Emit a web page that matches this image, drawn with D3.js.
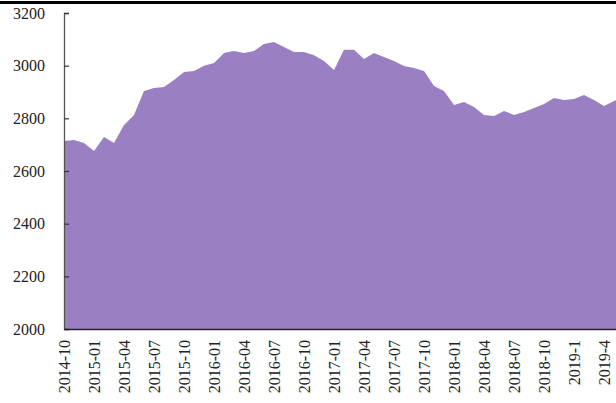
<!DOCTYPE html>
<html>
<head>
<meta charset="utf-8">
<script src="https://cdn.jsdelivr.net/npm/d3@7"></script>
<style>
  body { margin: 0; background: #fff; }
  svg { display: block; }
  .tick text { font-family: "Liberation Serif", "Times New Roman", serif; font-size: 16px; fill: #222; }
</style>
</head>
<body>
<svg id="chart" width="616" height="403"></svg>
<script>
const months = [
  '2014-10', '2014-11', '2014-12', '2015-01', '2015-02', '2015-03', '2015-04', '2015-05', '2015-06',
  '2015-07', '2015-08', '2015-09', '2015-10', '2015-11', '2015-12', '2016-01', '2016-02', '2016-03',
  '2016-04', '2016-05', '2016-06', '2016-07', '2016-08', '2016-09', '2016-10', '2016-11', '2016-12',
  '2017-01', '2017-02', '2017-03', '2017-04', '2017-05', '2017-06', '2017-07', '2017-08', '2017-09',
  '2017-10', '2017-11', '2017-12', '2018-01', '2018-02', '2018-03', '2018-04', '2018-05', '2018-06',
  '2018-07', '2018-08', '2018-09', '2018-10', '2018-11', '2018-12', '2019-01', '2019-02', '2019-03',
  '2019-04', '2019-05', '2019-06'
];

const values = [
  2714, 2718, 2706, 2676, 2729, 2706, 2775, 2813, 2904,
  2915, 2919, 2946, 2976, 2980, 3000, 3010, 3048, 3056,
  3048, 3056, 3082, 3090, 3071, 3052, 3052, 3040, 3018,
  2984, 3060, 3060, 3025, 3048, 3033, 3018, 2999, 2991,
  2980, 2923, 2904, 2851, 2862, 2843, 2813, 2809, 2828,
  2813, 2824, 2839, 2854, 2877, 2870, 2873, 2889, 2870,
  2847, 2866, 2878
];

const tickMonths = [
  '2014-10', '2015-01', '2015-04', '2015-07', '2015-10', '2016-01', '2016-04', '2016-07', '2016-10',
  '2017-01', '2017-04', '2017-07', '2017-10', '2018-01', '2018-04', '2018-07', '2018-10', '2019-01', '2019-04'
];
const tickLabels = [
  '2014-10', '2015-01', '2015-04', '2015-07', '2015-10', '2016-01', '2016-04', '2016-07', '2016-10',
  '2017-01', '2017-04', '2017-07', '2017-10', '2018-01', '2018-04', '2018-07', '2018-10', '2019-1', '2019-4'
];

const yTicks = [2000, 2200, 2400, 2600, 2800, 3000, 3200];

const marginLeft = 64;
const plotBottom = 329;
const plotTop = 13;
const step = 10;

const data = months.map((m, i) => ({ month: m, value: values[i] }));

const xscale = d3.scalePoint()
  .domain(months)
  .range([marginLeft, marginLeft + step * (months.length - 1)]);

const yscale = d3.scaleLinear()
  .domain([2000, 3200])
  .range([plotBottom, plotTop]);

const svg = d3.select('#chart');

// top border line
svg.append('rect')
  .attr('x', 0)
  .attr('y', 1)
  .attr('width', 616)
  .attr('height', 3)
  .attr('fill', '#000');

const area = d3.area()
  .x((d) => xscale(d.month))
  .y0(yscale(2000))
  .y1((d) => yscale(d.value));

svg.append('path')
  .datum(data)
  .attr('fill', '#9b7fc3')
  .attr('d', area);

const leftAxis = d3.axisLeft(yscale)
  .tickValues(yTicks)
  .tickFormat(d3.format('d'))
  .tickSize(-5)
  .tickPadding(19);

const yAxis = svg.append('g')
  .attr('transform', `translate(${marginLeft}, 0)`)
  .call(leftAxis);
yAxis.select('.domain').attr('stroke', '#555').attr('stroke-width', 1.3);
yAxis.selectAll('.tick line').attr('stroke', '#333').attr('stroke-width', 1.2);

const bottomAxis = d3.axisBottom(xscale)
  .tickValues(tickMonths)
  .tickFormat((d, i) => tickLabels[i])
  .tickSize(0)
  .tickSizeOuter(0);

const xAxis = svg.append('g')
  .attr('transform', `translate(0, ${plotBottom})`)
  .call(bottomAxis);
xAxis.select('.domain').attr('stroke', '#222').attr('stroke-width', 1.5);
xAxis.selectAll('.tick text')
  .attr('transform', 'rotate(-90)')
  .attr('x', -11)
  .attr('y', 0)
  .attr('dy', '0.35em')
  .attr('text-anchor', 'end');
</script>
</body>
</html>
